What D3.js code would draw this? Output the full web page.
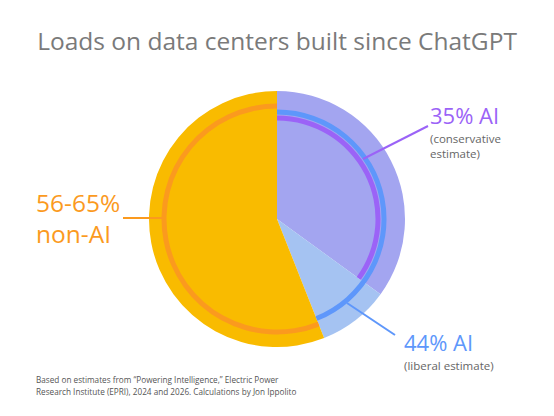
<!DOCTYPE html>
<html>
<head>
<meta charset="utf-8">
<script src="https://cdn.jsdelivr.net/npm/d3@7"></script>
<style>
  body { margin: 0; background: #fff; font-family: "Open Sans", sans-serif; }
</style>
</head>
<body>
<div id="chart"></div>
<script>
// Shares of load (percent)
const sliceNames = ['AI (conservative)', 'AI (liberal extra)', 'non-AI'];
const sliceValues = [35, 9, 56];
const sliceColors = ['#a3a5f0', '#a5c3f2', '#f9bb00'];

// Inner rings: [start%, end%]
const ringNames = ['liberal AI', 'conservative AI', 'non-AI'];
const ringRanges = [[0, 44], [0, 35], [44, 100]];
const ringColors = ['#5e97fb', '#9b63f7', '#fb9a1e'];

const width = 554, height = 416;
const cx = 277, cy = 219, R = 128;

const svg = d3.select('#chart').append('svg')
  .attr('width', width).attr('height', height);

svg.append('text')
  .attr('x', cx).attr('y', 50)
  .attr('text-anchor', 'middle')
  .attr('fill', '#7a7a7a')
  .style('font-size', '24.5px')
  .text('Loads on data centers built since ChatGPT');

const g = svg.append('g').attr('transform', `translate(${cx},${cy})`);

const pie = d3.pie().sort(null).value(d => d);
const arc = d3.arc().innerRadius(0).outerRadius(R);

g.selectAll('path.slice')
  .data(pie(sliceValues))
  .enter().append('path')
  .attr('class', 'slice')
  .attr('d', arc)
  .attr('fill', (d, i) => sliceColors[i]);

const angle = d3.scaleLinear().domain([0, 100]).range([0, 2 * Math.PI]);
const ringRadius = [107, 101, 113];

g.selectAll('path.ring')
  .data(ringRanges)
  .enter().append('path')
  .attr('class', 'ring')
  .attr('d', (d, i) => d3.arc()
    .innerRadius(ringRadius[i] - 2.5).outerRadius(ringRadius[i] + 2.5)
    .startAngle(angle(d[0])).endAngle(angle(d[1]))())
  .attr('fill', (d, i) => ringColors[i]);

// Leader lines
function leader(x1, y1, x2, y2, color) {
  svg.append('line')
    .attr('x1', x1).attr('y1', y1).attr('x2', x2).attr('y2', y2)
    .attr('stroke', color).attr('stroke-width', 2);
}
leader(123, 218, 163, 218, '#fb9a1e');
leader(363, 159, 428, 126, '#9b63f7');
leader(347, 303, 395, 335, '#5e97fb');

function label(x, y, lines, color, size, lh) {
  const t = svg.append('text').attr('x', x).attr('y', y)
    .attr('fill', color).style('font-size', size + 'px');
  lines.forEach((s, i) => t.append('tspan').attr('x', x).attr('dy', i ? lh : 0).text(s));
}
label(36, 212, ['56-65%', 'non-AI'], '#fb9a1e', 24.5, 31);
label(430, 124, ['35% AI'], '#9b63f7', 22, 0);
label(430, 143, ['(conservative', 'estimate)'], '#666', 11.5, 15);
label(404, 351, ['44% AI'], '#5e97fb', 22, 0);
label(404, 370, ['(liberal estimate)'], '#666', 11.5, 0);

label(36, 383, ['Based on estimates from \u201cPowering Intelligence,\u201d Electric Power',
  'Research Institute (EPRI), 2024 and 2026. Calculations by Jon Ippolito'], '#555', 8.2, 11.5);
</script>
</body>
</html>
